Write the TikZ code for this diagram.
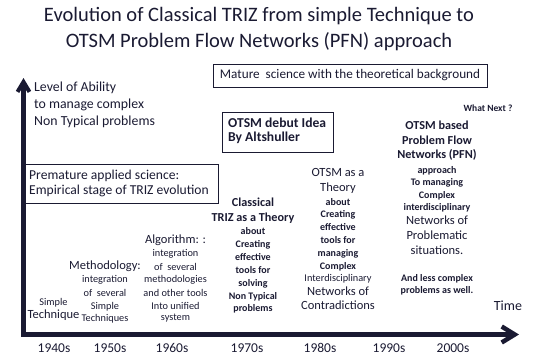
\documentclass[tikz,border=0pt]{standalone}
\usepackage{fontspec}
\setmainfont{Carlito}
\usetikzlibrary{arrows.meta}
\definecolor{ink}{RGB}{26,26,50}
\begin{document}
\begin{tikzpicture}[x=1pt,y=-1pt,
  every node/.style={text=ink, inner sep=0pt},
  tsb/.style={font=\fontsize{10}{12}\selectfont\bfseries},
  tsr/.style={font=\fontsize{10.3}{12}\selectfont},
  tlr/.style={font=\fontsize{12.5}{14}\selectfont},
  tlb/.style={font=\fontsize{12.2}{14}\selectfont\bfseries},
  framebox/.style={draw=ink, line width=0.8pt},
  axisline/.style={draw=ink, line width=4.6pt, line join=miter,
    {Straight Barb[length=10pt,width=12pt,line width=4pt]}-{Straight Barb[length=13pt,width=16pt,line width=4.5pt]}},
]
\useasboundingbox (0,0) rectangle (544,360);

% title
\node[font=\fontsize{20.5}{24}\selectfont, anchor=mid] (title1) at (259,19) {Evolution of Classical TRIZ from simple Technique to};
\node[font=\fontsize{20.5}{24}\selectfont, anchor=mid] (title2) at (259,45) {OTSM Problem Flow Networks (PFN) approach};

% axes
\coordinate (ytip) at (23.5,78);
\coordinate (orig) at (23.5,334.5);
\coordinate (xtip) at (519,334.5);
\draw[axisline] (ytip) -- (orig) -- (xtip);

% axis labels
\node[font=\fontsize{13.8}{15}\selectfont, anchor=mid west] (lvl1) at (34,89) {Level of Ability};
\node[font=\fontsize{13.8}{15}\selectfont, anchor=mid west] (lvl2) at (34,106) {to manage complex};
\node[font=\fontsize{13.8}{15}\selectfont, anchor=mid west] (lvl3) at (34,123) {Non Typical problems};
\node[font=\fontsize{14}{16}\selectfont, anchor=mid] (time) at (508,308) {Time};
\node[font=\fontsize{9.5}{11}\selectfont\bfseries, anchor=mid] (next) at (488,109) {What Next ?};

% boxes
\draw[framebox] (213,64) rectangle (487,87);
\node[font=\fontsize{13.2}{15}\selectfont, anchor=mid] (mature) at (350,76) {Mature\ \ science with the theoretical background};

\draw[framebox] (222,112) rectangle (333,152);
\node[font=\fontsize{13.6}{15}\selectfont\bfseries, anchor=mid west] (deb1) at (228,125) {OTSM debut Idea};
\node[font=\fontsize{13.6}{15}\selectfont\bfseries, anchor=mid west] (deb2) at (228,139) {By Altshuller};

\draw[framebox] (24,164) rectangle (218,203.5);
\node[font=\fontsize{13.6}{15}\selectfont, anchor=mid west] (pre1) at (29,177) {Premature applied science:};
\node[font=\fontsize{13.6}{15}\selectfont, anchor=mid west] (pre2) at (29,192) {Empirical stage of TRIZ evolution};

% columns
\foreach \t/\y/\s [count=\i] in {Simple/303/tsr, Technique/316.5/tlr}
  {\node[\s, anchor=mid] (ca-\i) at (53.5,\y) {\t};}

\foreach \t/\y/\s [count=\i] in {Methodology:/267/tlr, integration/280.5/tsr, of\ \ several/294/tsr, Simple/307/tsr, Techniques/319.5/tsr}
  {\node[\s, anchor=mid] (cb-\i) at (105,\y) {\t};}

\foreach \t/\y/\s [count=\i] in {Algorithm: :/241/tlr, integration/254.5/tsr, of\ \ several/268/tsr, methodologies/280.5/tsr, and other tools/294/tsr, Into unified/307/tsr, system/318.5/tsr}
  {\node[\s, anchor=mid] (cc-\i) at (175.5,\y) {\t};}

\foreach \t/\y/\s [count=\i] in {Classical/204/tlb, TRIZ as a Theory/219/tlb, about/232.5/tsb, Creating/245.5/tsb, effective/258.5/tsb, tools for/271.5/tsb, solving/284/tsb, Non Typical/297/tsb, problems/309.5/tsb}
  {\node[\s, anchor=mid] (cd-\i) at (253,\y) {\t};}

\foreach \t/\y/\s [count=\i] in {OTSM as a/174/tlr, Theory/189/tlr, about/203/tsb, Creating/215.5/tsb, effective/228/tsb, tools for/241/tsb, managing/254/tsb, Complex/267/tsb, Interdisciplinary/279.5/tsr, Networks of/293/tlr, Contradictions/307/tlr}
  {\node[\s, anchor=mid] (ce-\i) at (338,\y) {\t};}

\foreach \t/\y/\s [count=\i] in {OTSM based/127/tlb, Problem Flow/142/tlb, Networks (PFN)/156/tlb, approach/171/tsb, To managing/183/tsb, Complex/196/tsb, interdisciplinary/208.5/tsb, Networks of/222/tlr, Problematic/237/tlr, situations./252/tlr, And less complex/279/tsb, problems as well./291/tsb}
  {\node[\s, anchor=mid] (cf-\i) at (437,\y) {\t};}

% decades
\foreach \t/\x [count=\i] in {1940s/54, 1950s/110, 1960s/172, 1970s/247, 1980s/320, 1990s/389, 2000s/453}
  {\node[font=\fontsize{13.5}{15}\selectfont, anchor=mid] (dec-\i) at (\x,350) {\t};}
\end{tikzpicture}
\end{document}
